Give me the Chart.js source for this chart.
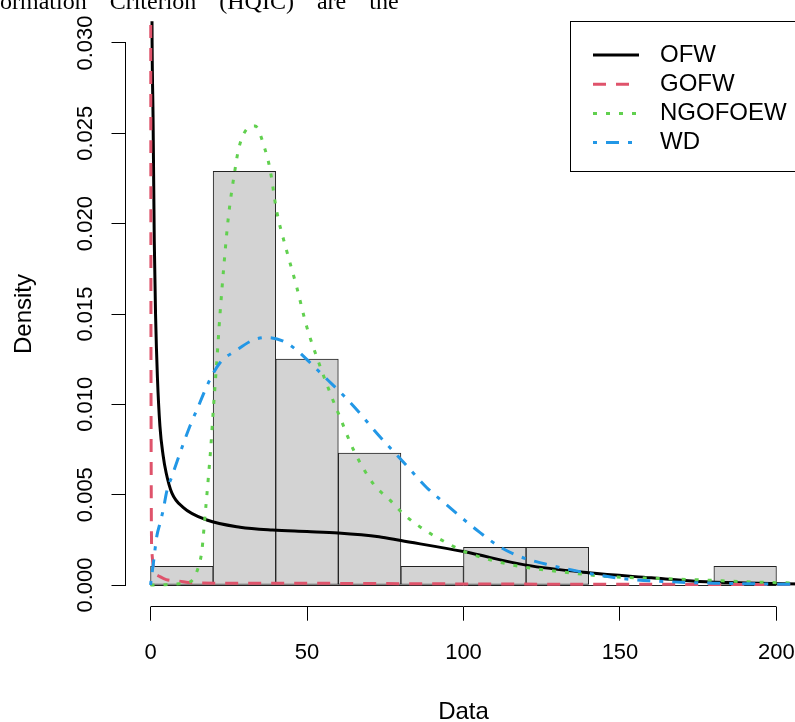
<!DOCTYPE html>
<html>
<head>
<meta charset="utf-8">
<script src="https://cdn.jsdelivr.net/npm/chart.js@4.4.1/dist/chart.umd.min.js"></script>
<style>
html, body { margin: 0; padding: 0; overflow: hidden; background: #fff; width: 795px; height: 722px; }
#wrap { position: relative; width: 810px; height: 722px; }
#topText { position: absolute; left: 0; top: -11px; font-family: "Liberation Serif", serif; font-size: 24px; line-height: 24px; word-spacing: 17px; white-space: nowrap; color: #000; }
</style>
</head>
<body>
<div id="wrap">
  <canvas id="chart"></canvas>
  <div id="topText">ormation Criterion (HQIC) are the</div>
</div>
<script>
// ヒストグラム（密度）
const binEdges = [0, 20, 40, 60, 80, 100, 120, 140, 160, 180, 200];
const densities = [0.00104, 0.0229, 0.0125, 0.0073, 0.00104, 0.00208, 0.00208, 0, 0, 0.00104];

// 目盛り
const xTicks = [0, 50, 100, 150, 200];
const yTicks = [0, 0.005, 0.010, 0.015, 0.020, 0.025, 0.030];

// 各分布の密度曲線
const seriesNames = ['OFW', 'GOFW', 'NGOFOEW', 'WD'];

const ofwX = [0.1, 0.5, 0.8, 1.2, 1.6, 2.2, 3.0, 4.0, 5.0, 6.8, 10.4, 18, 28.6, 39, 50, 60, 73, 80, 100, 120, 140, 160, 175, 190, 208];
const ofwY = [0.045, 0.030, 0.026, 0.019, 0.0150, 0.0115, 0.0088, 0.0072, 0.0062, 0.0051, 0.0043, 0.0036, 0.0032, 0.00304, 0.00296, 0.00288, 0.00267, 0.00246, 0.00185, 0.0011, 0.00068, 0.0004, 0.0002, 0.00011, 0.00005];

const gofwX = [0.02, 0.15, 0.4, 2, 5, 9, 13, 30, 60, 100, 150, 208];
const gofwY = [0.045, 0.0115, 0.0019, 0.00055, 0.0003, 0.00022, 0.00012, 0.0001, 0.00009, 0.00006, 0.00004, 0.00003];

const ngoX = [0, 4, 8.4, 12.6, 15.3, 16.4, 17.4, 18.5, 19.2, 20.1, 21.1, 22.2, 23.5, 24.9, 27, 28.1, 30.2, 33.4, 36.6, 38.2, 40.3, 43.5, 46.7, 49.9, 54.2, 57.9, 60.5, 64.8, 71.2, 76.5, 81, 88, 95, 101, 115.8, 130.9, 147.8, 160, 176, 192, 208];
const ngoY = [0, 0.00001, 0.00006, 0.00017, 0.001, 0.0019, 0.0038, 0.006, 0.0075, 0.0098, 0.0122, 0.015, 0.0178, 0.0204, 0.023, 0.0241, 0.0251, 0.0254, 0.0241, 0.023, 0.0207, 0.0185, 0.0165, 0.0143, 0.0121, 0.0104, 0.0093, 0.0075, 0.0056, 0.0047, 0.0039, 0.0030, 0.0023, 0.0018, 0.0011, 0.00074, 0.00045, 0.00038, 0.00028, 0.00017, 0.0001];

const wdX = [0, 0.9, 2, 3, 4.1, 5.2, 6.8, 9.4, 12.6, 15.3, 18.5, 22.2, 27.5, 32.8, 37.1, 42.4, 46.7, 51, 56.3, 61.6, 66.9, 72.3, 77.6, 82.9, 88.2, 93.5, 98.9, 105.3, 111.7, 118.1, 127.6, 137.2, 150, 166, 180, 195, 208];
const wdY = [0, 0.0012, 0.0027, 0.0034, 0.0042, 0.0052, 0.006, 0.0073, 0.0088, 0.0099, 0.0112, 0.0123, 0.013, 0.01356, 0.0137, 0.0135, 0.013, 0.0123, 0.0114, 0.0105, 0.0095, 0.0084, 0.0074, 0.0064, 0.0054, 0.0046, 0.0038, 0.0029, 0.0021, 0.00157, 0.0011, 0.00074, 0.00037, 0.00018, 0.0001, 0.00006, 0.00003];

const pts = (xs, ys) => xs.map((x, i) => ({ x: x, y: ys[i] }));
const histData = densities.map((d, i) => ({ x: (binEdges[i] + binEdges[i + 1]) / 2, y: d }));

const FONT = '"Liberation Sans", Arial, sans-serif';
const align = v => Math.round(v - 0.5) + 0.5;

function curve(label, xs, ys, color, dash, order) {
    return {
        type: 'line', label: label, data: pts(xs, ys),
        borderColor: color, borderWidth: 3, borderDash: dash,
        pointRadius: 0, fill: false, cubicInterpolationMode: 'monotone', order: order
    };
}

// Rっぽい軸・ラベル
const rAxes = {
    id: 'rAxes',
    afterDatasetDraw(chart, args) {
        if (args.meta.type !== 'bar') return;
        const { ctx, scales: { x, y } } = chart;
        const y0 = align(y.getPixelForValue(0));
        ctx.save();
        ctx.strokeStyle = '#222';
        ctx.lineWidth = 1;
        ctx.beginPath();
        ctx.moveTo(x.getPixelForValue(binEdges[0]), y0);
        ctx.lineTo(x.getPixelForValue(binEdges[binEdges.length - 1]), y0);
        ctx.stroke();
        ctx.restore();
    },
    afterDraw(chart) {
        const { ctx, scales: { x, y }, chartArea } = chart;
        ctx.save();
        ctx.strokeStyle = '#000';
        ctx.lineWidth = 1;
        const xb = align(chartArea.bottom);
        ctx.beginPath();
        ctx.moveTo(align(x.getPixelForValue(xTicks[0])), xb);
        ctx.lineTo(align(x.getPixelForValue(xTicks[xTicks.length - 1])), xb);
        const yl = align(chartArea.left);
        ctx.moveTo(yl, align(y.getPixelForValue(yTicks[0])));
        ctx.lineTo(yl, align(y.getPixelForValue(yTicks[yTicks.length - 1])));
        ctx.stroke();

        // y目盛りラベル（縦書き）
        ctx.fillStyle = '#000';
        ctx.font = '22px ' + FONT;
        ctx.textAlign = 'center';
        ctx.textBaseline = 'middle';
        yTicks.forEach(v => {
            ctx.save();
            ctx.translate(chartArea.left - 40, y.getPixelForValue(v));
            ctx.rotate(-Math.PI / 2);
            ctx.fillText(v.toFixed(3), 0, 0);
            ctx.restore();
        });
        ctx.restore();
    }
};

// 凡例（枠付き、右上）
const rLegend = {
    id: 'rLegend',
    afterDraw(chart) {
        const ctx = chart.ctx;
        ctx.save();
        ctx.fillStyle = '#fff';
        ctx.fillRect(570.5, 21.5, 240, 150);
        ctx.strokeStyle = '#000';
        ctx.lineWidth = 1;
        ctx.strokeRect(570.5, 21.5, 240, 150);
        chart.data.datasets.filter(d => d.type === 'line').forEach((d, i) => {
            const yy = 55 + i * 29.2;
            ctx.setLineDash(d.borderDash || []);
            ctx.strokeStyle = d.borderColor;
            ctx.lineWidth = d.borderWidth;
            ctx.beginPath();
            ctx.moveTo(593, yy);
            ctx.lineTo(639, yy);
            ctx.stroke();
            ctx.setLineDash([]);
            ctx.fillStyle = '#000';
            ctx.font = '24px ' + FONT;
            ctx.textAlign = 'left';
            ctx.textBaseline = 'middle';
            ctx.fillText(d.label, 660, yy);
        });
        ctx.restore();
    }
};

new Chart(document.getElementById('chart'), {
    type: 'bar',
    data: {
        datasets: [
            curve(seriesNames[0], ofwX, ofwY, '#000000', [], 4),
            curve(seriesNames[1], gofwX, gofwY, '#DF536B', [13, 10], 3),
            curve(seriesNames[2], ngoX, ngoY, '#61D04F', [4, 9], 2),
            curve(seriesNames[3], wdX, wdY, '#2297E6', [4, 9, 13, 9], 1),
            {
                type: 'bar', label: 'hist', data: histData,
                backgroundColor: '#D3D3D3', borderColor: '#222', borderWidth: 1,
                borderSkipped: false, barPercentage: 1, categoryPercentage: 1,
                grouped: false, order: 5
            }
        ]
    },
    options: {
        responsive: true,
        maintainAspectRatio: false,
        animation: false,
        events: [],
        layout: { padding: { top: 21.3, right: 8.5, bottom: 0, left: 0 } },
        plugins: { legend: { display: false }, tooltip: { enabled: false } },
        scales: {
            x: {
                type: 'linear', min: -8, max: 208, offset: false,
                afterBuildTicks: s => { s.ticks = xTicks.map(v => ({ value: v })); },
                afterFit: s => { s.height = 115.3; s.paddingLeft = 0; s.paddingRight = 0; },
                border: { display: false },
                grid: { drawOnChartArea: false, drawTicks: true, tickLength: 14, color: '#000', offset: false },
                ticks: { color: '#000', font: { family: FONT, size: 22 }, padding: 19, maxRotation: 0, autoSkip: false },
                title: { display: true, text: 'Data', color: '#000', font: { family: FONT, size: 24, lineHeight: 0.8 }, padding: { top: 0, bottom: 0 } }
            },
            y: {
                type: 'linear', min: -0.0012, max: 0.0312,
                afterBuildTicks: s => { s.ticks = yTicks.map(v => ({ value: v })); },
                afterFit: s => { s.width = 125.5; s.paddingTop = 0; s.paddingBottom = 0; },
                border: { display: false },
                grid: { drawOnChartArea: false, drawTicks: true, tickLength: 14, color: '#000' },
                ticks: { display: false },
                title: { display: true, text: 'Density', color: '#000', font: { family: FONT, size: 24, lineHeight: 0.8 }, padding: { top: 15, bottom: 0 } }
            }
        }
    },
    plugins: [rAxes, rLegend]
});
</script>
</body>
</html>
